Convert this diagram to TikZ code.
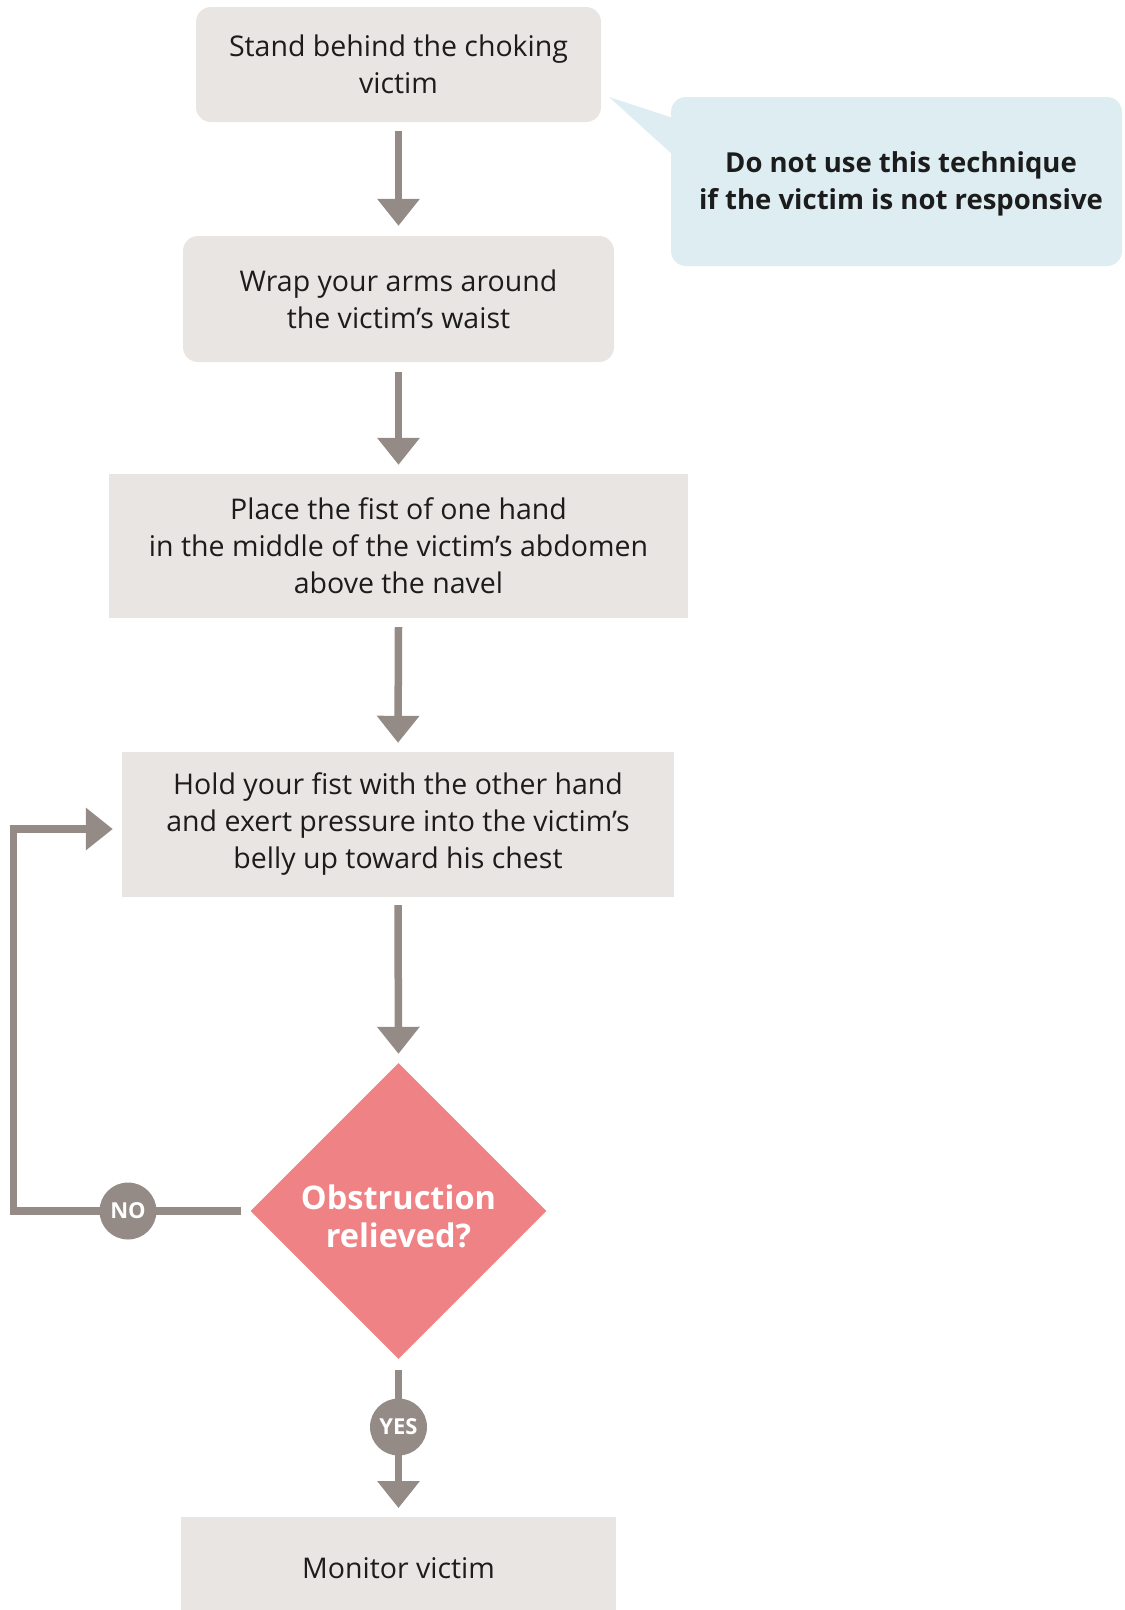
\documentclass[tikz,border=0pt]{standalone}
\usepackage{fontspec}
\setmainfont{Open Sans}
\usetikzlibrary{arrows.meta,shapes.geometric}

\definecolor{stepfill}{HTML}{E9E5E2}
\definecolor{notefill}{HTML}{DDEDF2}
\definecolor{decfill}{HTML}{EF8284}
\definecolor{flowgray}{HTML}{958B86}
\definecolor{inktext}{HTML}{1C1C1C}

\tikzset{
  stepbox/.style={fill=stepfill, draw=none, inner sep=0pt, align=center,
    text=inktext, font=\fontsize{28.5}{37}\selectfont},
  roundstep/.style={stepbox, rounded corners=15pt},
  flow/.style={draw=flowgray, line width=7.5pt,
    -{Triangle[width=41pt,length=27pt]}},
  badge/.style={circle, fill=flowgray, minimum size=57pt, inner sep=0pt,
    text=white, font=\bfseries\fontsize{22}{24}\selectfont},
}

\begin{document}
\begin{tikzpicture}[x=1pt,y=-1pt]
  \useasboundingbox (0,0) rectangle (1125,1610);

  % steps of the procedure
  \node[roundstep, minimum width=405pt, minimum height=115pt] (s1) at (398.5,64.5)
    {Stand behind the choking\\victim};
  \node[roundstep, minimum width=431pt, minimum height=126pt] (s2) at (398.5,299)
    {Wrap your arms around\\ the victim’s waist};
  \node[stepbox, minimum width=579pt, minimum height=144pt] (s3) at (398.5,546)
    {Place the fist of one hand\\in the middle of the victim’s abdomen\\above the navel};
  \node[stepbox, minimum width=552pt, minimum height=145pt] (s4) at (398,824.5)
    {Hold your fist with the other hand\\and exert pressure into the victim’s\\belly up toward his chest};

  % decision
  \node[diamond, fill=decfill, minimum width=296pt, minimum height=296pt,
    inner sep=0pt, text=white, align=center,
    font=\bfseries\fontsize{32.5}{38}\selectfont] (dec) at (398.5,1211) {};
  \node[text=white, align=center, font=\bfseries\fontsize{32.5}{38}\selectfont]
    (dectext) at (398.5,1216) {Obstruction\\relieved?};

  % final step, running off the bottom edge
  \fill[stepfill] (181,1517) rectangle (616,1625);
  \node[text=inktext, font=\fontsize{28.5}{37}\selectfont] (s5) at (398.5,1568) {Monitor victim};
  \coordinate (s5top) at (398.5,1517);

  % warning callout
  \fill[notefill, rounded corners=15pt] (671,97) rectangle (1122,266);
  \fill[notefill] (609,97) -- (673,118) -- (673,155) -- cycle;
  \node[text=inktext, align=center, font=\bfseries\fontsize{27.5}{37}\selectfont]
    (note) at (901,184) {Do not use this technique\\if the victim is not responsive};

  % connectors between steps
  \draw[flow] ([yshift=-9pt]s1.south) -- ([yshift=10pt]s2.north);
  \draw[flow] ([yshift=-10pt]s2.south) -- ([yshift=9pt]s3.north);
  \draw[flow] ([yshift=-9pt]s3.south) -- ([yshift=9pt]s4.north);
  \draw[flow] ([yshift=-8pt]s4.south) -- ([yshift=9pt]dec.north);

  % NO branch loops back to the pressure step
  \coordinate (loop) at (13.5,1211);
  \draw[flow] ([xshift=-9pt]dec.west) -- (loop) |- ([xshift=-9pt,yshift=-4.5pt]s4.west);
  \node[badge] (no) at (128,1211) {NO};

  % YES branch
  \draw[flow] ([yshift=-11pt]dec.south) -- ([yshift=9pt]s5top);
  \node[badge] (yes) at (398.5,1427) {YES};
\end{tikzpicture}
\end{document}
